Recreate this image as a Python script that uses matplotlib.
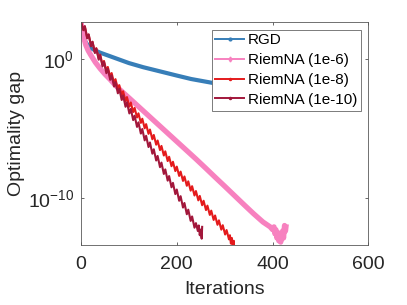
import matplotlib
matplotlib.use('Agg')
import matplotlib.pyplot as plt
from matplotlib.lines import Line2D
import numpy as np

plt.rcParams['font.family'] = ['Liberation Sans', 'DejaVu Sans']
plt.rcParams['mathtext.fontset'] = 'custom'
plt.rcParams['mathtext.rm'] = 'Liberation Sans'
plt.rcParams['mathtext.it'] = 'Liberation Sans:italic'
plt.rcParams['mathtext.default'] = 'regular'

# log10 of optimality gap
rgd_it = [0, 3, 6, 10, 15, 20, 30, 40, 60, 80, 100, 130, 165, 200, 230, 270, 320, 380, 440, 500]
rgd_log = [2.66, 1.9, 1.5, 1.2, 0.95, 0.8, 0.6, 0.45, 0.2, -0.05, -0.3, -0.6, -0.9, -1.2,
           -1.45, -1.7, -2.0, -2.3, -2.6, -2.85]

na6_it = [0, 3, 6, 10, 15, 20, 30, 40, 50, 60, 70, 80, 100, 120, 140, 160, 180, 200, 220, 240,
          260, 280, 300, 320, 340, 360, 380, 395, 400, 403, 405, 407, 409, 411, 413, 415, 417,
          419, 421, 423, 425, 427, 428]
na6_log = [2.66, 2.0, 1.5, 1.0, 0.6, 0.3, -0.25, -0.7, -1.1, -1.45, -1.83, -2.18, -2.8, -3.43,
           -4.06, -4.69, -5.32, -5.95, -6.58, -7.21, -7.86, -8.52, -9.17, -9.83, -10.49, -11.14,
           -11.75, -12.1, -12.3, -12.1, -12.6, -12.3, -12.9, -12.5, -13.1, -12.7, -13.2, -12.8,
           -12.4, -12.9, -12.0, -12.4, -12.1]

na8_it = [0, 5, 8, 13, 16, 21, 24, 29, 32, 37, 40, 45, 48, 53, 56, 61, 64, 69, 72, 77, 80, 85,
          88, 93, 96, 101, 104, 109, 112, 117, 120, 125, 128, 133, 136, 141, 144, 149, 152, 157,
          160, 165, 168, 173, 176, 181, 184, 189, 192, 197, 200, 205, 208, 213, 216, 221, 224,
          229, 232, 237, 240, 245, 248, 253, 256, 261, 264, 269, 272, 277, 280, 285, 288, 293,
          296, 301, 304, 309, 311, 313, 315, 317, 319, 320]
na8_log = [2.66, 2.095, 2.33, 1.51, 1.74, 0.94, 1.22, 0.49, 0.77, 0.03, 0.31, -0.43, -0.15,
           -0.86, -0.58, -1.30, -1.02, -1.74, -1.46, -2.18, -1.89, -2.62, -2.33, -3.05, -2.75,
           -3.44, -3.14, -3.83, -3.53, -4.22, -3.92, -4.61, -4.31, -5.00, -4.70, -5.40, -5.09,
           -5.79, -5.48, -6.18, -5.88, -6.57, -6.27, -6.96, -6.66, -7.36, -7.05, -7.73, -7.41,
           -8.08, -7.76, -8.43, -8.12, -8.79, -8.47, -9.14, -8.82, -9.49, -9.17, -9.84, -9.52,
           -10.19, -9.87, -10.54, -10.22, -10.89, -10.57, -11.24, -10.93, -11.60, -11.28,
           -11.95, -11.63, -12.30, -11.98, -12.65, -12.33, -13.00, -12.7, -13.3, -12.9, -13.6,
           -13.1, -13.8]

na10_it = [0, 5, 8, 13, 16, 21, 24, 29, 32, 37, 40, 45, 48, 53, 56, 61, 64, 69, 72, 77, 80,
           85, 88, 93, 96, 101, 104, 109, 112, 117, 120, 125, 128, 133, 136, 141, 144, 149, 152,
           157, 160, 165, 168, 173, 176, 181, 184, 189, 192, 197, 200, 205, 208, 213, 216, 221,
           224, 229, 232, 237, 240, 244, 246, 248, 250, 252, 253]
na10_log = [2.66, 2.065, 2.36, 1.48, 1.77, 0.91, 1.24, 0.42, 0.75, -0.06, 0.27, -0.54, -0.21,
            -1.03, -0.70, -1.51, -1.18, -1.99, -1.67, -2.48, -2.15, -2.96, -2.63, -3.45, -3.12,
            -3.93, -3.60, -4.41, -4.09, -4.90, -4.57, -5.38, -5.05, -5.87, -5.54, -6.35, -6.02,
            -6.83, -6.51, -7.32, -6.99, -7.80, -7.47, -8.29, -7.96, -8.77, -8.44, -9.25, -8.93,
            -9.74, -9.41, -10.22, -9.89, -10.71, -10.38, -11.19, -10.86, -11.67, -11.35, -12.16,
            -11.83, -12.4, -12.0, -12.7, -12.3, -12.95, -12.1]

names = ['RGD', 'RiemNA (1e-6)', 'RiemNA (1e-8)', 'RiemNA (1e-10)']
colors = ['#377eb8', '#f781bf', '#e41a1c', '#a2173b']

fig = plt.figure(figsize=(4.07, 3.05), dpi=100)
ax = fig.add_axes([0.199, 0.197, 0.706, 0.731])

ax.plot(rgd_it, 10 ** np.array(rgd_log), color=colors[0], lw=3, solid_capstyle='round')
ax.plot(na6_it, 10 ** np.array(na6_log), color=colors[1], lw=3.8, solid_joinstyle='round')
ax.plot(na8_it, 10 ** np.array(na8_log), color=colors[2], lw=1.5)
ax.plot(na10_it, 10 ** np.array(na10_log), color=colors[3], lw=1.5)

ax.set_yscale('log')
ax.set_xlim(0, 600)
ax.set_ylim(10 ** -13.4, 10 ** 2.66)
ax.set_xticks([0, 200, 400, 600])
ax.set_yticks([1, 1e-10])
ax.set_yticklabels(['$10^{0}$', '$10^{-10}$'])
ax.yaxis.set_minor_locator(matplotlib.ticker.NullLocator())
ax.tick_params(direction='in', length=2.5, width=0.6, color='0.3', labelsize=14, pad=5,
               top=True, right=True)
ax.tick_params(axis='x', pad=8)
for s in ax.spines.values():
    s.set_linewidth(0.6)
    s.set_color('0.35')

ax.set_xlabel('Iterations', fontsize=14, color='#262626', labelpad=6)
ax.set_ylabel('Optimality gap', fontsize=14, color='#262626', labelpad=2)
for lb in ax.get_xticklabels() + ax.get_yticklabels():
    lb.set_color('#262626')

handles = [
    Line2D([], [], color=colors[0], lw=1.4, marker='.', markersize=4),
    Line2D([], [], color=colors[1], lw=1.4, marker='d', markersize=2.5),
    Line2D([], [], color=colors[2], lw=1.4, marker='.', markersize=3),
    Line2D([], [], color=colors[3], lw=1.4, marker='.', markersize=3),
]
leg = ax.legend(handles, names, loc='upper right', fontsize=11, frameon=True, fancybox=False,
                framealpha=1, edgecolor='0.4', handlelength=1.9, handletextpad=0.2,
                labelspacing=0.38, borderpad=0.25, borderaxespad=0.5)
leg.get_frame().set_linewidth(0.6)

fig.savefig('out.png', dpi=100)
